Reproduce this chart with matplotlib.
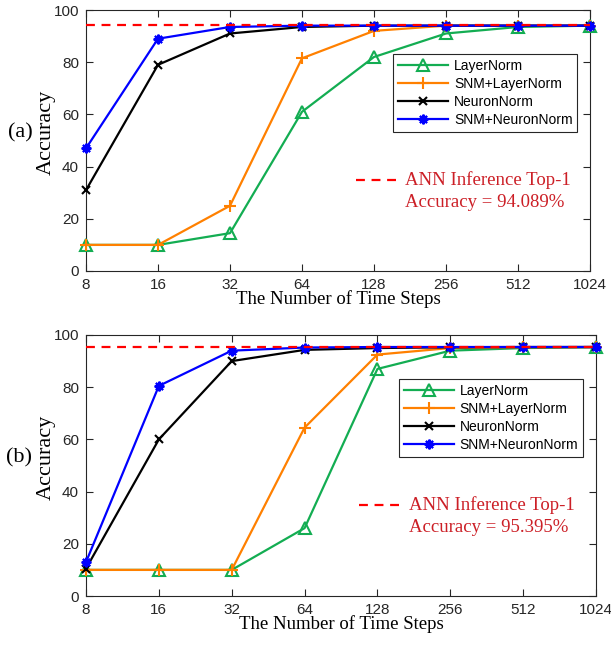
import numpy as np
import matplotlib.pyplot as plt
from matplotlib.lines import Line2D

# time steps on the x axis
steps = [8, 16, 32, 64, 128, 256, 512, 1024]
names = ["LayerNorm", "SNM+LayerNorm", "NeuronNorm", "SNM+NeuronNorm"]

# (a)
a_layer = [10, 10, 14.5, 61, 82, 91, 93.5, 94]
a_snm_layer = [10, 10, 25, 81.5, 92, 94, 94, 94]
a_neuron = [31, 79, 91, 93.5, 94, 94, 94, 94]
a_snm_neuron = [47, 89, 93.5, 94, 94, 94, 94, 94]
a_ann = 94.089

# (b)
b_layer = [10, 10, 10, 26, 87, 94, 95, 95.3]
b_snm_layer = [10, 10, 10, 64.5, 92.5, 95, 95.3, 95.4]
b_neuron = [10.5, 60, 90, 94.3, 95, 95.3, 95.4, 95.4]
b_snm_neuron = [13, 80.5, 94, 95.2, 95.4, 95.4, 95.4, 95.4]
b_ann = 95.395

colors = ["#13ad52", "#ff8000", "#000000", "#0000ff"]
markers = ["^", "+", "x", (8, 2, 0)]
msizes = [8.5, 8, 6, 7]

serif = "Liberation Serif"
sans = "Liberation Sans"

fig = plt.figure(figsize=(6.11, 6.45), dpi=100)
ax1 = fig.add_axes([86/611, 1-271/645, 504/611, 261/645])
ax2 = fig.add_axes([86/611, 1-596/645, 510/611, 261/645])


def panel(ax, series, ann, tag):
	for y, c, m, s, n in zip(series, colors, markers, msizes, names):
		mfc = "none" if m == "^" else c
		ax.plot(steps, y, color=c, marker=m, markersize=s, markerfacecolor=mfc,
			markeredgecolor=c, markeredgewidth=1.5, linewidth=1.6, label=n, clip_on=False, zorder=3)
	ax.axhline(ann, color="#ff0000", linestyle="--", linewidth=1.6, dashes=(4, 3), zorder=4)
	ax.set_xscale("log", base=2)
	ax.set_xlim(8, 1024)
	ax.set_ylim(0, 100)
	ax.set_xticks(steps)
	ax.set_xticklabels([str(s) for s in steps])
	ax.minorticks_off()
	ax.set_yticks([0, 20, 40, 60, 80, 100])
	ax.tick_params(direction="in", labelsize=11, length=5, pad=5, colors="#262626",
		top=True, right=True, labeltop=False, labelright=False)
	for sp in ax.spines.values():
		sp.set_color("#262626")
		sp.set_linewidth(0.8)
	for lab in ax.get_xticklabels() + ax.get_yticklabels():
		lab.set_fontfamily(sans)
	ax.set_xlabel("The Number of Time Steps", fontfamily=serif, fontsize=13.5, labelpad=-1)
	ax.set_ylabel("Accuracy", fontfamily=serif, fontsize=16, labelpad=0)
	ax.yaxis.set_label_coords(-0.06, 0.53)
	ax.text(-0.131, 0.53, tag, transform=ax.transAxes, fontfamily=serif, fontsize=16, ha="center", va="center")
	leg = ax.legend(loc="upper right", bbox_to_anchor=(0.975, 0.83), prop={"family": sans, "size": 10},
		handlelength=3.6, fancybox=False, edgecolor="#262626", framealpha=1, borderpad=0.35,
		labelspacing=0.28, handletextpad=0.4, borderaxespad=0)
	leg.get_frame().set_linewidth(0.8)
	# ANN annotation
	ax.add_line(Line2D([0.535, 0.625], [0.35, 0.35], transform=ax.transAxes, color="#ff0000",
		linestyle="--", dashes=(4, 3), linewidth=1.6))
	ax.text(0.633, 0.35, "ANN Inference Top-1", transform=ax.transAxes, color="#cc1f26",
		fontfamily=serif, fontsize=13.5, va="center")
	ax.text(0.633, 0.262, "Accuracy = %.3f%%" % ann, transform=ax.transAxes, color="#cc1f26",
		fontfamily=serif, fontsize=13.5, va="center")


panel(ax1, [a_layer, a_snm_layer, a_neuron, a_snm_neuron], a_ann, "(a)")
panel(ax2, [b_layer, b_snm_layer, b_neuron, b_snm_neuron], b_ann, "(b)")

fig.savefig("out.png", dpi=100)
